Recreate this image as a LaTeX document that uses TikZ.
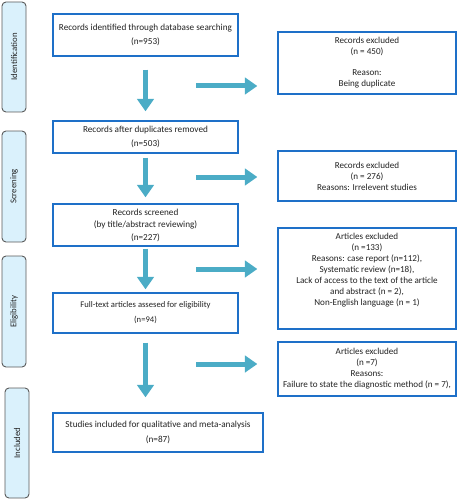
\documentclass[tikz,border=0pt]{standalone}
\usepackage{fontspec}
\setmainfont{Carlito}
\usetikzlibrary{arrows.meta}
\definecolor{boxblue}{RGB}{30,112,200}
\definecolor{arrowc}{RGB}{75,172,198}
\definecolor{phasefill}{RGB}{218,241,252}
\definecolor{phaseline}{RGB}{90,90,90}
\definecolor{txt}{RGB}{35,35,35}
\begin{document}
\begin{tikzpicture}[x=1pt,y=-1pt,
  mainbox/.style={draw=boxblue, line width=1.3pt, fill=white, text=txt, align=center, inner sep=2pt,
    font=\fontsize{9.2}{14.5}\selectfont},
  exbox/.style={draw=boxblue, line width=1.3pt, fill=white, text=txt, align=center, inner sep=2pt,
    font=\fontsize{9.1}{11}\selectfont},
  phasebox/.style={draw=phaseline, line width=0.9pt, fill=phasefill, rounded corners=4pt, text=txt,
    rotate=90, minimum height=24pt, inner sep=1pt, font=\fontsize{8.8}{10}\selectfont},
  fatarrow/.style={draw=arrowc, line width=5pt, -{Triangle[width=16.5pt,length=12.5pt]}}
]
\useasboundingbox (0,0) rectangle (458,500);

% phase labels
\node[phasebox, minimum width=110pt] (p1) at (14,57) {Identification};
\node[phasebox, minimum width=111pt] (p2) at (14,186.5) {Screening};
\node[phasebox, minimum width=111pt] (p3) at (14,311.5) {Eligibility};
\node[phasebox, minimum width=110pt] (p4) at (17,443) {Included};

% main boxes
\node[mainbox, minimum width=185pt, minimum height=42pt] (b1) at (145.5,35)
  {Records identified through database searching\\(n=953)};
\node[mainbox, minimum width=185pt, minimum height=32pt] (b2) at (145.5,137)
  {Records after duplicates removed\\(n=503)};
\node[mainbox, minimum width=185pt, minimum height=42pt, font=\fontsize{9.2}{12.5}\selectfont] (b3) at (145.5,225)
  {Records screened\\(by title/abstract reviewing)\\(n=227)};
\node[mainbox, minimum width=185pt, minimum height=40pt, font=\fontsize{8.6}{15}\selectfont] (b4) at (145.5,313)
  {Full-text articles assesed for eligibility\\(n=94)};
\node[mainbox, minimum width=210pt, minimum height=39pt] (b5) at (158,432.5)
  {Studies included for qualitative and meta-analysis\\(n=87)};

% exclusion boxes
\node[exbox, minimum width=178pt, minimum height=62pt] (r1) at (367,63)
  {Records excluded\\(n = 450)\\[10pt]Reason:\\Being duplicate};
\node[exbox, minimum width=178pt, minimum height=50pt] (r2) at (367,176)
  {Records excluded\\(n = 276)\\Reasons: Irrelevent studies};
\node[exbox, minimum width=178pt, minimum height=101pt] (r3) at (367,278.5) {};
\node[text=txt, align=center, inner sep=0pt, anchor=north, font=\fontsize{9.1}{11}\selectfont]
  (r3t) at ([yshift=-5.5pt]r3.north)
  {Articles excluded\\(n =133)\\Reasons: case report (n=112),\\Systematic review (n=18),\\Lack of access to the text of the article\\and abstract (n = 2),\\Non-English language (n = 1)};
\node[exbox, minimum width=178pt, minimum height=54pt] (r4) at (367,369)
  {Articles excluded\\(n =7)\\Reasons:\\Failure to state the diagnostic method (n = 7),};

% vertical arrows
\draw[fatarrow, shorten <=13pt, shorten >=9pt] (b1.south) -- (b2.north);
\draw[fatarrow, shorten <=4pt, shorten >=6pt] (b2.south) -- (b3.north);
\draw[fatarrow, shorten <=2pt, shorten >=3pt] (b3.south) -- (b4.north);
\draw[fatarrow, shorten <=9pt, shorten >=15pt] (b4.south) -- (b4.south |- b5.north);

% horizontal arrows
\coordinate (h1) at (196,86);
\coordinate (h2) at (196,177);
\coordinate (h3) at (196,269);
\coordinate (h4) at (196,364);
\draw[fatarrow, shorten >=20pt] (h1) -- (h1 -| r1.west);
\draw[fatarrow, shorten >=20pt] (h2) -- (h2 -| r2.west);
\draw[fatarrow, shorten >=20pt] (h3) -- (h3 -| r3.west);
\draw[fatarrow, shorten >=20pt] (h4) -- (h4 -| r4.west);
\end{tikzpicture}
\end{document}
